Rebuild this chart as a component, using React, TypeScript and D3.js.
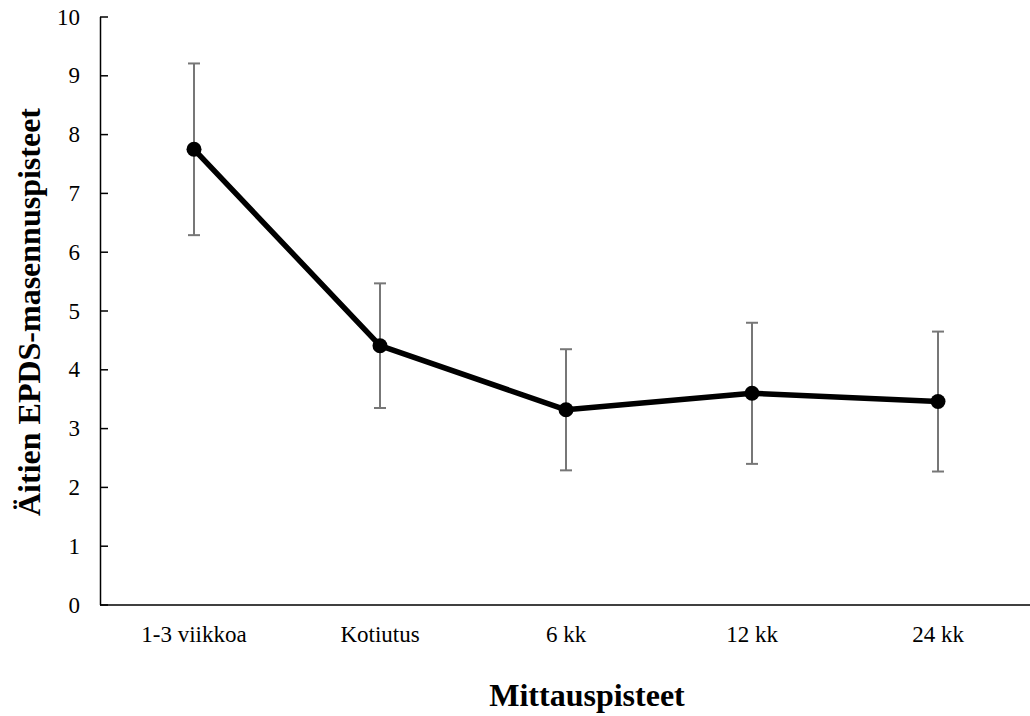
import React from "react";
import * as d3 from "d3";

const categories = ["1-3 viikkoa", "Kotiutus", "6 kk", "12 kk", "24 kk"];
const means = [7.75, 4.41, 3.32, 3.6, 3.46];
const upper = [9.21, 5.47, 4.35, 4.8, 4.65];
const lower = [6.29, 3.35, 2.29, 2.4, 2.27];
const yTicks = [0, 1, 2, 3, 4, 5, 6, 7, 8, 9, 10];

const W = 1030;
const H = 716;
const left = 101;
const right = 1031;
const top = 17;
const bottom = 605;
const font = "Liberation Serif";

export default function App() {
  const x = d3.scaleBand<string>().domain(categories).range([left, right]);
  const y = d3.scaleLinear().domain([0, 10]).range([bottom, top]);
  const cx = (c: string) => (x(c) as number) + x.bandwidth() / 2;
  const line = d3
    .line<number>()
    .x((_, i) => cx(categories[i]))
    .y((d) => y(d));
  return (
    <svg
      width={W}
      height={H}
      style={{ position: "absolute", left: 0, top: 0, background: "#fff", fontFamily: font }}
    >
      <line x1={left - 0.5} x2={left - 0.5} y1={top} y2={bottom} stroke="#000" strokeWidth={1.5} />
      <line x1={left - 1} x2={right} y1={bottom} y2={bottom} stroke="#000" strokeWidth={1.5} />
      {yTicks.map((t) => (
        <g key={t}>
          <line x1={left - 1} x2={left + 7} y1={y(t)} y2={y(t)} stroke="#000" strokeWidth={1.5} />
          <text
            x={80}
            y={y(t)}
            textAnchor="end"
            dominantBaseline="central"
            style={{ fontFamily: font, fontSize: 23 }}
            fill="#000"
          >
            {t}
          </text>
        </g>
      ))}
      {categories.map((c) => (
        <text
          key={c}
          x={cx(c)}
          y={642}
          textAnchor="middle"
          style={{ fontFamily: font, fontSize: 23 }}
          fill="#000"
        >
          {c}
        </text>
      ))}
      {categories.map((c, i) => (
        <g key={"e" + c} stroke="#777" strokeWidth={2}>
          <line x1={cx(c)} x2={cx(c)} y1={y(upper[i])} y2={y(lower[i])} />
          <line x1={cx(c) - 6} x2={cx(c) + 6} y1={y(upper[i])} y2={y(upper[i])} />
          <line x1={cx(c) - 6} x2={cx(c) + 6} y1={y(lower[i])} y2={y(lower[i])} />
        </g>
      ))}
      <path d={line(means) || ""} fill="none" stroke="#000" strokeWidth={5.5} strokeLinejoin="round" />
      {categories.map((c, i) => (
        <circle key={"p" + c} cx={cx(c)} cy={y(means[i])} r={7.5} fill="#000" />
      ))}
      <text
        transform={`translate(29, 312) rotate(-90)`}
        textAnchor="middle"
        dominantBaseline="central"
        style={{ fontFamily: font, fontSize: 32, fontWeight: "bold" }}
        fill="#000"
      >
        Äitien EPDS-masennuspisteet
      </text>
      <text
        x={587}
        y={706}
        textAnchor="middle"
        style={{ fontFamily: font, fontSize: 32, fontWeight: "bold" }}
        fill="#000"
      >
        Mittauspisteet
      </text>
    </svg>
  );
}
